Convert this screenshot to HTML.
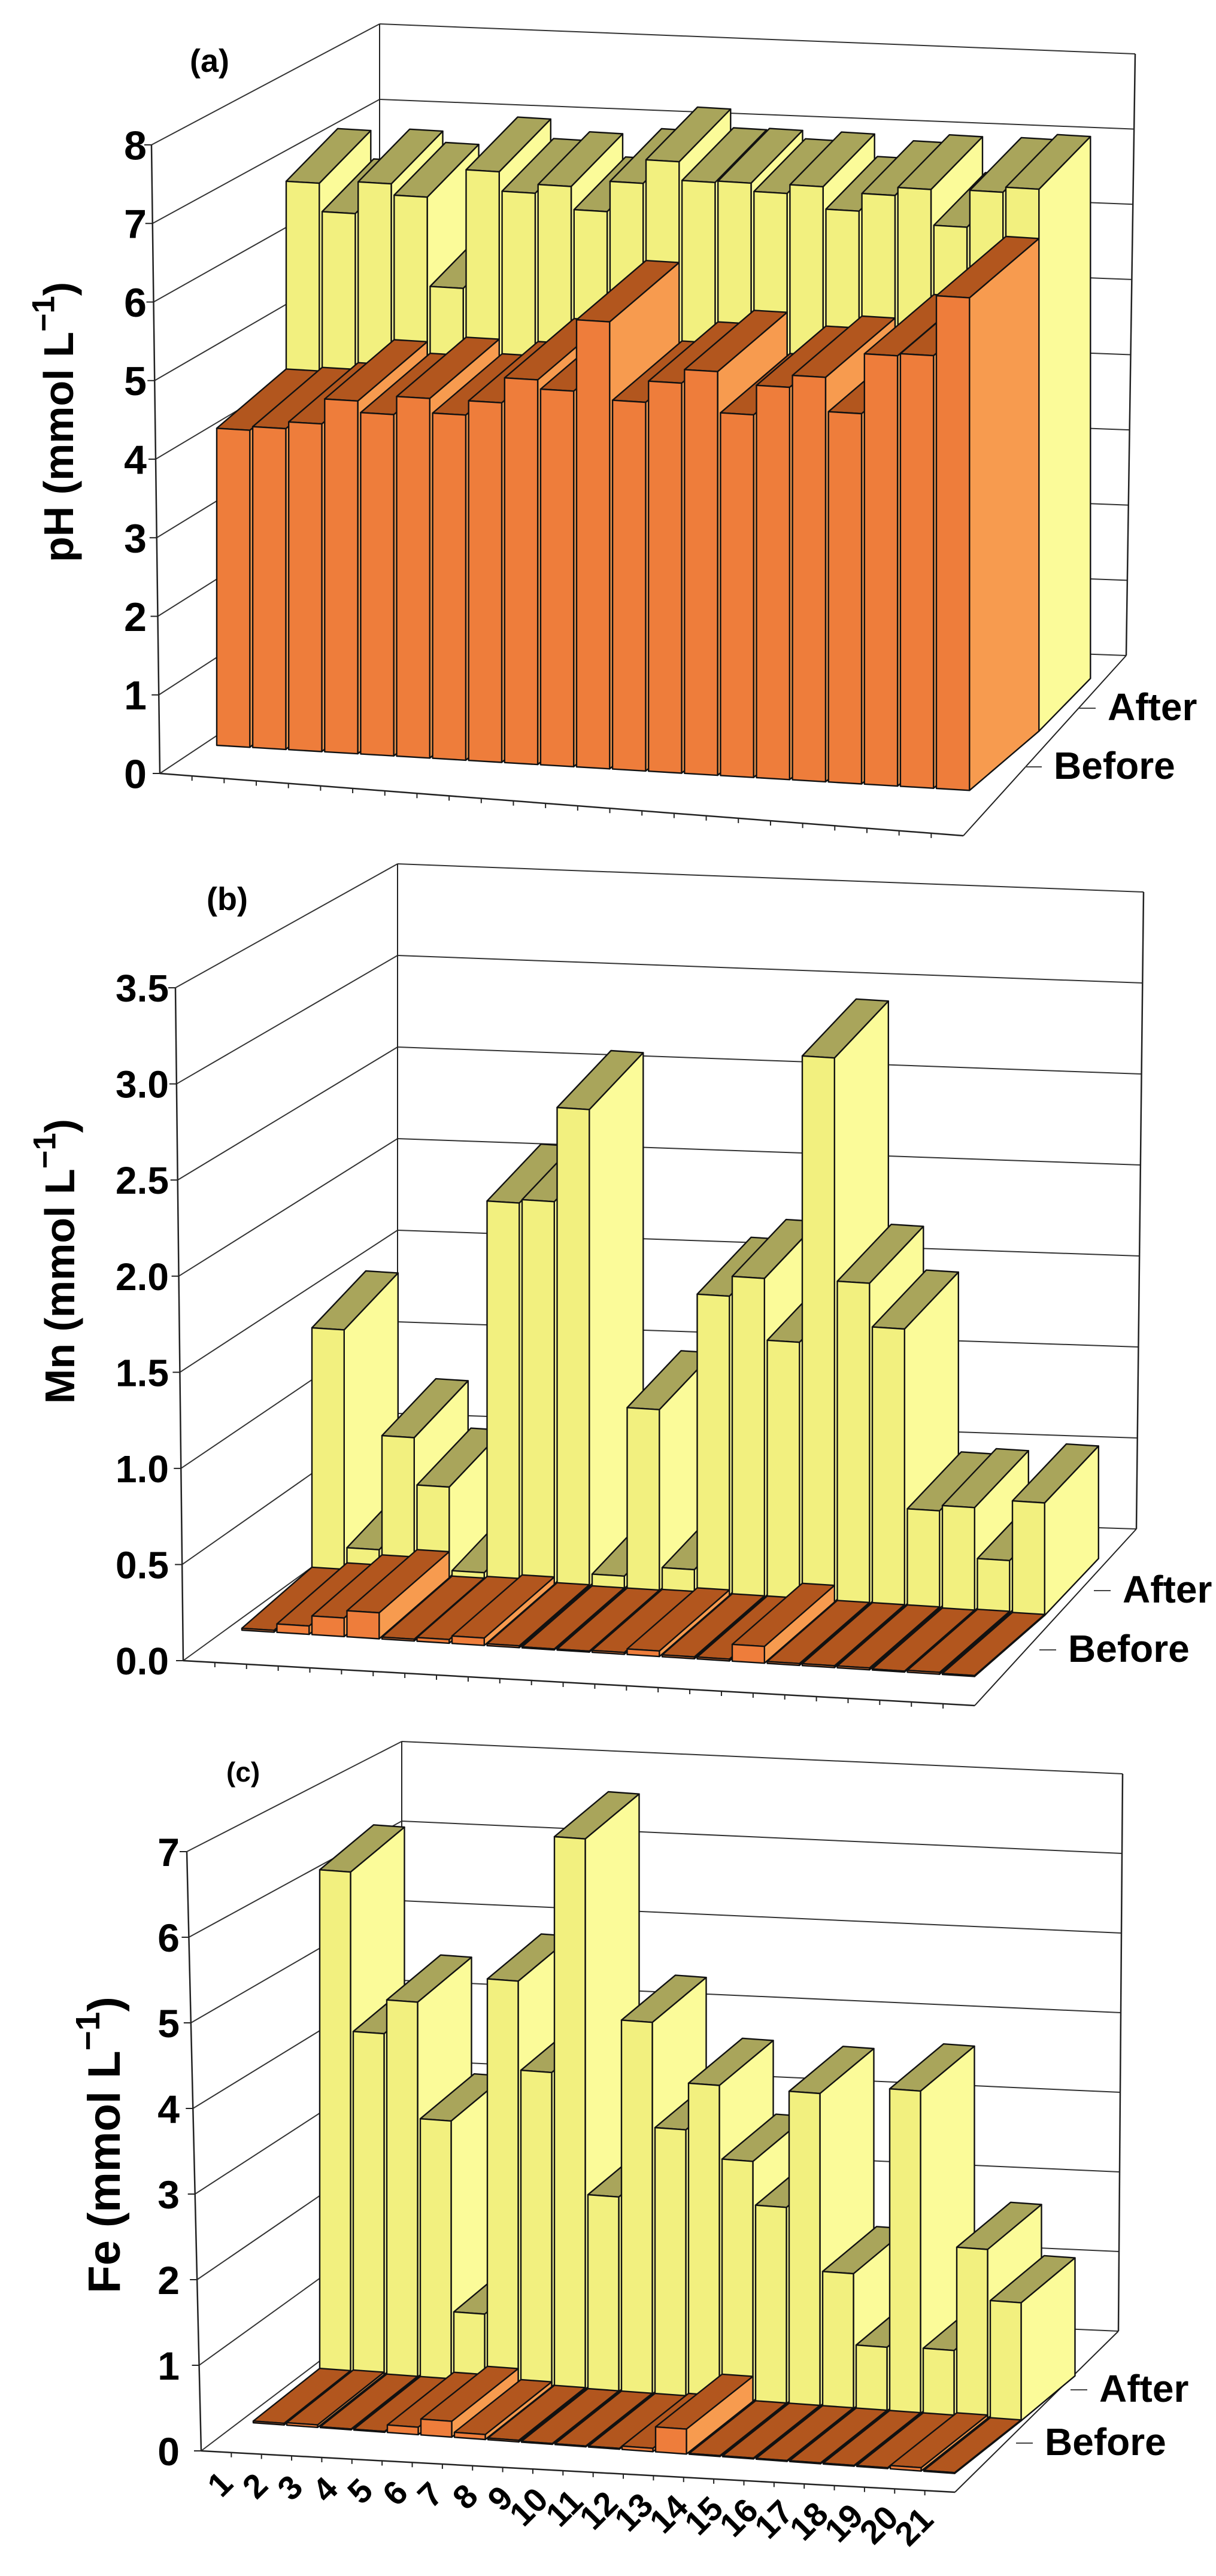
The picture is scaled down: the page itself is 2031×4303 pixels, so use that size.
<!DOCTYPE html>
<html><head><meta charset="utf-8">
<style>
html,body{margin:0;padding:0;background:#fff;}
svg{display:block;}
text{font-family:"Liberation Sans",Arial,sans-serif;font-weight:bold;fill:#000;}
text.nar{font-family:"Liberation Sans Narrow","Liberation Sans",Arial,sans-serif;}
</style></head>
<body>
<svg id="chart" xmlns="http://www.w3.org/2000/svg" width="2031" height="4303" viewBox="0 0 2031 4303"></svg>
<script>
const categories = ['1','2','3','4','5','6','7','8','9','10','11','12','13','14','15','16','17','18','19','20','21'];
const phBefore = [4.17,4.22,4.31,4.64,4.49,4.73,4.54,4.73,5.06,4.94,5.88,4.85,5.13,5.31,4.77,5.16,5.32,4.87,5.66,5.69,6.48];
const phAfter  = [6.80,6.42,6.85,6.70,5.50,7.10,6.84,6.96,6.65,7.06,7.38,7.13,7.15,7.04,7.16,6.86,7.10,7.21,6.73,7.23,7.30];
const mnBefore = [0.01,0.045,0.10,0.14,0.01,0.02,0.04,0.01,0.005,0.005,0.01,0.03,0.01,0.01,0.09,0.01,0.01,0.01,0.005,0.01,0.005];
const mnAfter  = [1.33,0.13,0.76,0.50,0.04,2.09,2.11,2.63,0.07,1.00,0.13,1.65,1.76,1.42,3.00,1.77,1.53,0.54,0.57,0.29,0.62];
const feBefore = [0.02,0.03,0.01,0.01,0.09,0.19,0.06,0.02,0.01,0.01,0.01,0.04,0.30,0.01,0.01,0.01,0.01,0.01,0.01,0.04,0.01];
const feAfter  = [6.19,4.22,4.64,3.20,0.84,4.99,3.89,6.81,2.41,4.60,3.30,3.88,2.97,2.43,3.87,1.67,0.79,3.99,0.81,2.09,1.46];
const phTicks = ['0','1','2','3','4','5','6','7','8'];
const mnTicks = ['0.0','0.5','1.0','1.5','2.0','2.5','3.0','3.5'];
const feTicks = ['0','1','2','3','4','5','6','7'];
const rowLabels = ['Before','After'];

const NS = 'http://www.w3.org/2000/svg';
const svg = document.getElementById('chart');
function el(tag, attrs, parent){
  const e = document.createElementNS(NS, tag);
  for (const k in attrs) e.setAttribute(k, attrs[k]);
  (parent||svg).appendChild(e);
  return e;
}
const COL = {
  oFront:'#EE7D3B', oSide:'#F79B4F', oTop:'#B2561E',
  yFront:'#F2F07F', ySide:'#FBFB99', yTop:'#A9A55B'
};

const panels = [
  {id:'ph', letter:'(a)', title:'pH (mmol L', before:phBefore, after:phAfter, ticks:phTicks, step:1,
   corner:[267,1292], top:[253,242], backLx:634, backLy0:1048, backLy1:40,
   backRxb:1881, backRxt:1896, backRy0:1095, backRy1:90, fr:[1609,1396],
   x0:362, y0:1245, px:60.1, py:3.6, dx1:116, dy1:99, dx2:86, dy2:88, kF:127, kB:124,
   tickFont:68, tickRight:245, titleX:122, titleY:705, titleFont:70,
   letterX:317, letterY:120, letterFont:54,
   afterY:1203, afterX:1850, beforeY:1301, beforeX:1760, rowFont:64, xLabels:false},
  {id:'mn', letter:'(b)', title:'Mn (mmol L', before:mnBefore, after:mnAfter, ticks:mnTicks, step:0.5,
   corner:[306,2774], top:[293,1650], backLx:664, backLy0:2514, backLy1:1443,
   backRxb:1898, backRxt:1910, backRy0:2554, backRy1:1490, fr:[1628,2849],
   x0:404, y0:2723, px:58.5, py:3.7, dx1:117, dy1:102, dx2:90, dy2:95, kF:311, kB:303,
   tickFont:64, tickRight:282, titleX:124, titleY:2107, titleFont:70,
   letterX:345, letterY:1520, letterFont:54,
   afterY:2677, afterX:1875, beforeY:2776, beforeX:1784, rowFont:64, xLabels:false},
  {id:'fe', letter:'(c)', title:'Fe (mmol L', before:feBefore, after:feAfter, ticks:feTicks, step:1,
   corner:[336,4094], top:[312,3093], backLx:671, backLy0:3840, backLy1:2909,
   backRxb:1868, backRxt:1875, backRy0:3894, backRy1:2963, fr:[1595,4163],
   x0:423, y0:4047, px:56, py:4.05, dx1:111, dy1:88, dx2:90, dy2:75, kF:139, kB:135,
   tickFont:66, tickRight:300, titleX:200, titleY:3583, titleFont:76,
   letterX:378, letterY:2976, letterFont:46,
   afterY:4012, afterX:1836, beforeY:4101, beforeX:1745, rowFont:64, xLabels:true}
];

function lerp(a,b,t){return a+(b-a)*t;}

function drawPanel(P){
  const g = el('g', {});
  
  
  const vmax = (P.ticks.length-1)*P.step;
  const frontAt = v => [lerp(P.corner[0],P.top[0],v/vmax), lerp(P.corner[1],P.top[1],v/vmax)];
  const backLAt = v => [P.backLx, lerp(P.backLy0,P.backLy1,v/vmax)];
  const backRAt = v => [lerp(P.backRxb,P.backRxt,v/vmax), lerp(P.backRy0,P.backRy1,v/vmax)];
  const ln = (a,b,w,c,name) => {
    const l = el('line',{x1:a[0],y1:a[1],x2:b[0],y2:b[1],stroke:c||'#222','stroke-width':w||2}, g);
    
    
    return l;
  };
  P.ticks.forEach((t,k)=>{
    const v = k*P.step;
    const f = frontAt(v), bl = backLAt(v), br = backRAt(v);
    ln(f, bl, 2, '#333', 'side-gridline');
    ln(bl, br, 2, '#333', 'back-gridline');
    ln([f[0]-12,f[1]], f, 2, '#222', 'y-tick');
    const tx = el('text',{x:P.tickRight,y:f[1]+P.tickFont*0.36,'text-anchor':'end','font-size':P.tickFont,'class':'nar'}, g);
    tx.textContent = t;
    
    
  });
  ln(P.corner, P.top, 2.5, '#222', 'y-axis');
  ln(backLAt(0), backLAt(vmax), 2, '#222', 'back-left-edge');
  ln(backRAt(0), backRAt(vmax), 2.5, '#222', 'back-right-edge');
  ln(P.corner, P.fr, 2.5, '#222', 'floor-front-edge');
  ln(P.fr, backRAt(0), 2, '#222', 'floor-right-edge');
  for (let q=1;q<25;q++){
    const t=q/25; const p=[lerp(P.corner[0],P.fr[0],t), lerp(P.corner[1],P.fr[1],t)];
    ln(p,[p[0],p[1]+8],2,'#222','x-tick');
  }
  [[P.beforeX,P.beforeY,rowLabels[0]],[P.afterX,P.afterY,rowLabels[1]]].forEach(([x,y,s])=>{
    ln([x-48,y-20],[x-20,y-20],2,'#444','row-tick');
    const tx = el('text',{x:x,y:y,'font-size':P.rowFont,'class':'nar'}, g);
    tx.textContent = s;
    
    
  });
  const proj = (i, row, s, v) => {
    let x, y, k;
    if (row===0){ x = P.x0 + i*P.px + s*P.dx1; y = P.y0 + i*P.py - s*P.dy1; k = P.kF; }
    else { x = P.x0 + i*P.px + P.dx1 + s*P.dx2; y = P.y0 + i*P.py - P.dy1 - s*P.dy2; k = P.kB; }
    return [x, y - v*k];
  };
  const poly = (pts, fill, name) => {
    const p = el('polygon',{points:pts.map(q=>q[0].toFixed(1)+','+q[1].toFixed(1)).join(' '),fill:fill,stroke:'#111','stroke-width':2.4,'stroke-linejoin':'round'}, g);
    
    
  };
  const wf = 0.92;
  [[1,P.after,'y','after'],[0,P.before,'o','before']].forEach(([row,vals,c,nm])=>{
    vals.forEach((v,j)=>{
      const i0=j, i1=j+wf;
      const fr=[proj(i0,row,0,0),proj(i1,row,0,0),proj(i1,row,0,v),proj(i0,row,0,v)];
      const sd=[proj(i1,row,0,0),proj(i1,row,1,0),proj(i1,row,1,v),proj(i1,row,0,v)];
      const tp=[proj(i0,row,0,v),proj(i1,row,0,v),proj(i1,row,1,v),proj(i0,row,1,v)];
      poly(sd, COL[c+'Side'], 'bar-side-' + nm + '-' + categories[j]);
      poly(tp, COL[c+'Top'], 'bar-top-' + nm + '-' + categories[j]);
      poly(fr, COL[c+'Front'], 'bar-' + nm + '-' + categories[j]);
    });
  });
  const tt = el('text',{x:P.titleX,y:P.titleY,'text-anchor':'middle','font-size':P.titleFont,'class':'nar',transform:'rotate(-90 '+P.titleX+' '+P.titleY+')'}, g);
  
  
  tt.appendChild(document.createTextNode(P.title));
  const sup = el('tspan',{dy:-P.titleFont*0.45,'font-size':P.titleFont*0.75}, tt);
  sup.textContent = '\u22121';
  const cl = el('tspan',{dy:P.titleFont*0.45}, tt);
  cl.textContent = ')';
  const lt = el('text',{x:P.letterX,y:P.letterY,'font-size':P.letterFont,'class':'nar'}, g);
  lt.textContent = P.letter;
  
  
  if (P.xLabels){
    categories.forEach((c,j)=>{
      const x = 392 + j*58.5, y = 4152 + j*3;
      const tx = el('text',{x:x,y:y,'text-anchor':'end','font-size':56,'class':'nar',transform:'rotate(-45 '+x+' '+y+')'}, g);
      tx.textContent = c;
      
      
    });
  }
}
panels.forEach(drawPanel);
</script>
</body></html>
